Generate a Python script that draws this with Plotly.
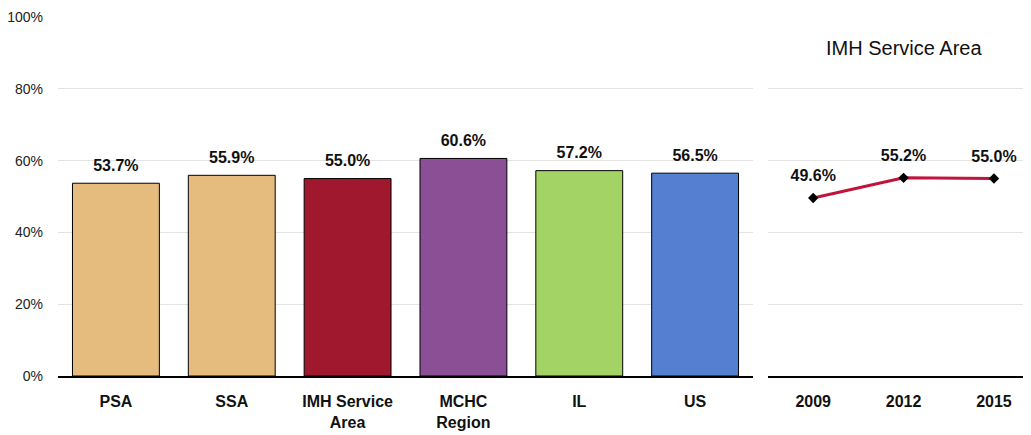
import plotly.graph_objects as go

categories = ["PSA", "SSA", "IMH Service<br>Area", "MCHC<br>Region", "IL", "US"]
values = [53.7, 55.9, 55.0, 60.6, 57.2, 56.5]
bar_colors = ["#E5BC7E", "#E5BC7E", "#A0182E", "#8B4F96", "#A3D365", "#5580D2"]

years = ["2009", "2012", "2015"]
trend = [49.6, 55.2, 55.0]

tick_vals = [0, 20, 40, 60, 80, 100]
tick_text = ["0%", "20%", "40%", "60%", "80%", "100%"]

font_family = "Liberation Sans Narrow, Arial Narrow, Liberation Sans, Arial, sans-serif"

fig = go.Figure()
fig.add_trace(go.Bar(
    x=categories, y=values, marker=dict(color=bar_colors, line=dict(color="black", width=1)),
    xaxis="x", yaxis="y", showlegend=False, hoverinfo="skip"))
fig.add_trace(go.Scatter(
    x=categories, y=values, mode="markers+text",
    marker=dict(size=12, color="rgba(0,0,0,0)"),
    text=[f"<b>{v:.1f}%</b>" for v in values], textposition="top center",
    textfont=dict(size=16, color="#111", family=font_family),
    xaxis="x", yaxis="y", showlegend=False, cliponaxis=False, hoverinfo="skip"))
fig.add_trace(go.Scatter(
    x=years, y=trend, mode="lines+markers",
    line=dict(color="#C0143C", width=3),
    marker=dict(symbol="diamond", size=8, color="black"),
    xaxis="x2", yaxis="y2", showlegend=False, cliponaxis=False, hoverinfo="skip"))
fig.add_trace(go.Scatter(
    x=years, y=trend, mode="markers+text",
    marker=dict(size=19, color="rgba(0,0,0,0)"),
    text=[f"<b>{v:.1f}%</b>" for v in trend], textposition="top center",
    textfont=dict(size=16, color="#111", family=font_family),
    xaxis="x2", yaxis="y2", showlegend=False, cliponaxis=False, hoverinfo="skip"))

grid = "#E3E3E3"
fig.update_layout(
    width=1023, height=427,
    margin=dict(l=50, r=0, t=9, b=59),
    paper_bgcolor="white", plot_bgcolor="white",
    font=dict(family=font_family, color="#111"),
    bargap=0.25,
    xaxis=dict(domain=[0, 0.7143], showline=True, linecolor="black", linewidth=1.5,
               ticks="", tickfont=dict(size=16, color="#111"), showgrid=False,
               tickprefix="<b>", ticksuffix="</b>", ticklabelstandoff=10),
    yaxis=dict(range=[0, 100], tickmode="array", tickvals=tick_vals, ticktext=tick_text,
               showgrid=True, gridcolor=grid, gridwidth=1, zeroline=False,
               tickfont=dict(size=14, color="#222"), ticks="", ticklabelstandoff=14),
    xaxis2=dict(domain=[0.7297, 1.0], anchor="y2", range=[-0.5, 2.41], showline=True,
                linecolor="black", linewidth=1.5, ticks="", showgrid=False,
                tickfont=dict(size=16, color="#111"),
                tickprefix="<b>", ticksuffix="</b>", ticklabelstandoff=10),
    yaxis2=dict(range=[0, 100], anchor="x2", tickvals=tick_vals,
                showticklabels=False, showgrid=True, gridcolor=grid, gridwidth=1,
                zeroline=False),
    annotations=[dict(text="IMH Service Area", xref="x2", yref="paper", x=1.0, y=0.914,
                      showarrow=False, font=dict(size=20, color="#111", family=font_family),
                      xanchor="center", yanchor="middle")],
)

fig.write_html("out.html")
